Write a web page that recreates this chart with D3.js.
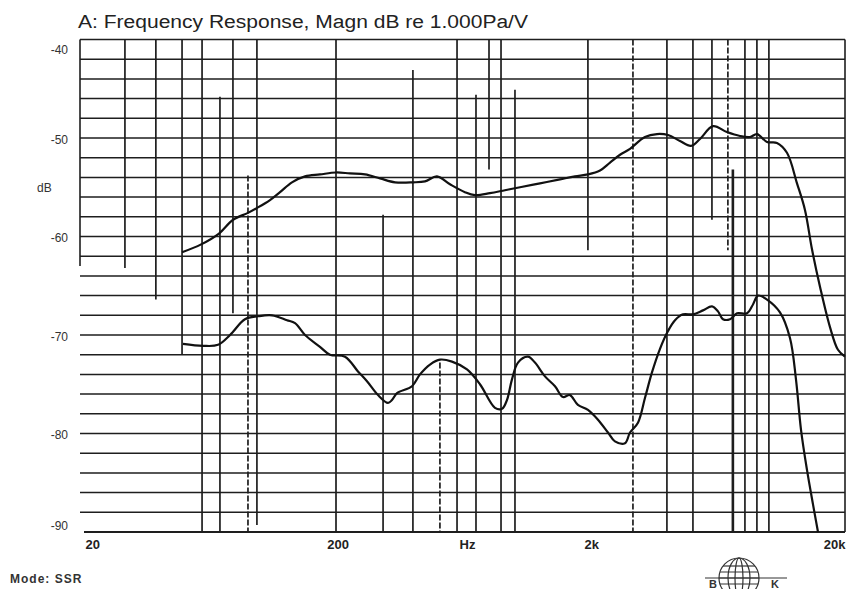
<!DOCTYPE html>
<html><head><meta charset="utf-8">
<script src="https://cdn.jsdelivr.net/npm/d3@7/dist/d3.min.js"></script>
<style>body{margin:0;background:#fff}svg{display:block}</style>
</head><body><svg id="c" width="847" height="589"></svg>
<script>
// ---- data (Hz, dB) ----
const upperFreq = [48.7,57.9,68.1,77.4,88.6,96.2,108.2,118.5,132.1,148.7,170.3,197,223.6,256.3,293.8,336.6,396.3,441.8,492.8,554.4,635.2,695.6,797,913,1047,1255,1505,1724,1940,2164,2370,2595,2841,3254,3630,4011,4472,4942,5362,6034,6848,7711,8443,8997,9852,10786,11810,12936,13906,14822,15938,17452,18764,19996];
const upperDb   = [-61.6,-60.8,-59.7,-58.3,-57.6,-57.1,-56.3,-55.5,-54.5,-53.9,-53.7,-53.5,-53.6,-53.7,-54.1,-54.5,-54.5,-54.4,-53.9,-54.7,-55.5,-55.8,-55.6,-55.3,-55.0,-54.6,-54.2,-53.9,-53.7,-53.3,-52.5,-51.7,-51.1,-49.9,-49.6,-49.7,-50.3,-50.8,-50.1,-48.8,-49.4,-49.8,-49.9,-49.6,-50.4,-50.5,-51.5,-54.6,-57.3,-61.3,-65.1,-69.2,-71.5,-72.2];
const lowerFreq = [49.1,58.9,67.5,75.3,86.2,97.0,110.2,126.3,135.8,148.7,170.3,186.5,213.8,240.5,261,288.4,315.8,327.5,342.8,392.6,422.2,462.4,506.4,564.6,647,727.8,834.2,888.8,930,973.2,1028,1125,1199,1313,1438,1546,1647,1771,1940,2124,2326,2478,2714,2841,3054,3254,3468,3730,4011,4274,4596,5032,5510,5978,6314,6608,7042,7502,8217,8676,9079,9852,11084,12137,12816,13412,14164,14958,15652];
const lowerDb   = [-70.9,-71.1,-71.0,-70.0,-68.4,-68.1,-68.0,-68.5,-68.8,-70.0,-71.2,-72.0,-72.2,-73.7,-74.7,-76.1,-76.9,-76.6,-75.9,-75.2,-74.0,-73.0,-72.5,-72.7,-73.5,-75.0,-77.4,-77.5,-76.6,-74.5,-72.8,-72.2,-72.8,-74.2,-75.2,-76.3,-76.1,-77.1,-77.6,-78.6,-79.9,-80.8,-81.0,-79.9,-78.9,-76.4,-73.8,-71.4,-69.6,-68.5,-67.9,-67.9,-67.5,-67.1,-67.6,-68.4,-68.4,-67.8,-67.8,-66.9,-66.0,-66.4,-67.7,-70.3,-74.5,-79.6,-83.7,-87.2,-90];

// vertical grid lines of the scanned chart (Hz, top dB, bottom dB)
const vFreq   = [29,38.4,48.7,58.4,68.7,77.3,88.6,96.1,197,302,396,506,591,702,790,881,1000,1939,2918,3972,5030,5977,6908,7228,8064,8990,10024];
const vTop    = [-40,-40,-40,-40,-45.8,-40,-53.8,-40,-40,-57.8,-43.1,-72.8,-40,-45.6,-40,-40,-45.1,-40,-40,-40,-40,-40,-40,-53.2,-40,-40,-40];
const vBottom = [-63.2,-66.4,-72,-90,-90,-67.8,-90,-89.3,-90,-90,-90,-90,-90,-90,-53.2,-90,-90,-61.4,-90,-90,-90,-58.3,-61.4,-90,-90,-90,-90];
const vDashed = [88.6,506,2918,6908];

const gridDb = [-42,-44,-46,-48,-50,-52,-54,-56,-58,-60,-62,-64,-66,-68,-70,-72,-74,-76,-78,-80,-82,-84,-86,-88];
const yTickValues = [-40,-50,-60,-70,-80,-90];
const xTickFreqs = [20,200,2000,20000];
const xTickText  = ["20","200","2k","20k"];
const titleText = "A: Frequency Response, Magn dB re 1.000Pa/V";
const unitY = "dB", unitX = "Hz", modeText = "Mode: SSR";

// ---- drawing ----
const svg = d3.select("#c");
const x = d3.scaleLog().domain([20,20000]).range([84,845]);
const y = d3.scaleLinear().domain([-90,-40]).range([532,39.5]);
const ink = "#1e1e1e";

// frame
svg.append("line").attr("x1",80).attr("x2",845).attr("y1",y(-40)).attr("y2",y(-40)).attr("stroke",ink).attr("stroke-width",1.6);
svg.append("line").attr("x1",845).attr("x2",845).attr("y1",y(-40)).attr("y2",y(-90)).attr("stroke",ink).attr("stroke-width",1.6);
svg.append("line").attr("x1",80).attr("x2",80).attr("y1",y(-40)).attr("y2",y(-63)).attr("stroke",ink).attr("stroke-width",1.6);
svg.append("line").attr("x1",84).attr("x2",845).attr("y1",y(-90)).attr("y2",y(-90)).attr("stroke",ink).attr("stroke-width",1.8);

// horizontal grid
svg.append("g").selectAll("line").data(gridDb).join("line")
  .attr("x1",80).attr("x2",845)
  .attr("y1",d=>y(d)).attr("y2",d=>y(d))
  .attr("stroke",ink).attr("stroke-width",1.5);

// vertical grid
svg.append("g").selectAll("line").data(vFreq).join("line")
  .attr("x1",d=>x(d)).attr("x2",d=>x(d))
  .attr("y1",(d,i)=>y(vTop[i])).attr("y2",(d,i)=>y(vBottom[i]))
  .attr("stroke",ink)
  .attr("stroke-width",d=>d===7228?2.6:1.7)
  .attr("stroke-dasharray",d=>vDashed.includes(d)?"6,2":null);

// curves
const line = d3.line().x(d=>x(d[0])).y(d=>y(d[1])).curve(d3.curveCatmullRom.alpha(0.5));
svg.append("path").datum(upperFreq.map((f,i)=>[f,upperDb[i]]))
  .attr("d",line).attr("fill","none").attr("stroke","#111").attr("stroke-width",2.2);
svg.append("path").datum(lowerFreq.map((f,i)=>[f,lowerDb[i]]))
  .attr("d",line).attr("fill","none").attr("stroke","#111").attr("stroke-width",2.2);

// y axis labels
const yAx = svg.append("g").attr("transform","translate(70,0)")
  .call(d3.axisLeft(y).tickValues(yTickValues).tickSize(0).tickPadding(2).tickFormat(d=>String(d)));
yAx.select(".domain").remove();
yAx.selectAll("text").attr("font-family","Liberation Sans, Arial, sans-serif").attr("font-size",12)
  .attr("fill","#333").attr("dy",d=>d===-40?"1.2em":(d===-90?"-0.25em":"0.45em"));

// x axis labels
const xAx = svg.append("g").attr("transform","translate(0,532)")
  .call(d3.axisBottom(x).tickValues(xTickFreqs).tickSize(0).tickPadding(8).tickFormat((d,i)=>xTickText[i]));
xAx.select(".domain").remove();
xAx.selectAll("text").attr("font-family","Liberation Sans Narrow, Arial Narrow, Liberation Sans, sans-serif")
  .attr("font-size",13).attr("font-weight","bold").attr("fill","#222")
  .attr("text-anchor",(d,i)=>i===0?"start":(i===xTickFreqs.length-1?"end":"middle"))
  .attr("dx",(d,i)=>i===0?1:0);

svg.append("text").attr("x",x(650)).attr("y",549).attr("text-anchor","middle")
  .attr("font-family","Liberation Sans Narrow, Arial Narrow, Liberation Sans, sans-serif")
  .attr("font-size",13).attr("font-weight","bold").attr("fill","#222").text(unitX);
svg.append("text").attr("x",37).attr("y",192)
  .attr("font-family","Liberation Sans, Arial, sans-serif").attr("font-size",12).attr("fill","#333").text(unitY);

// title
svg.append("text").attr("x",78).attr("y",28)
  .attr("font-family","Liberation Sans Narrow, Arial Narrow, Liberation Sans, sans-serif")
  .attr("font-size",18).attr("fill","#222")
  .attr("textLength",450).attr("lengthAdjust","spacingAndGlyphs").text(titleText);

// mode
svg.append("text").attr("x",10).attr("y",583)
  .attr("font-family","Liberation Sans, Arial, sans-serif").attr("font-size",12).attr("font-weight","bold")
  .attr("fill","#333").attr("letter-spacing",1).text(modeText);

// B&K logo
const logo = svg.append("g").attr("stroke","#333").attr("fill","none").attr("stroke-width",1.2);
logo.append("circle").attr("cx",739).attr("cy",578).attr("r",20);
logo.append("ellipse").attr("cx",739).attr("cy",578).attr("rx",11).attr("ry",20);
logo.append("ellipse").attr("cx",739).attr("cy",578).attr("rx",4).attr("ry",20);
[-12,-6,0,6].forEach(o=>logo.append("line").attr("x1",739-Math.sqrt(400-o*o)).attr("x2",739+Math.sqrt(400-o*o)).attr("y1",578+o).attr("y2",578+o));
logo.append("line").attr("x1",705).attr("x2",787).attr("y1",578).attr("y2",578);
svg.append("text").attr("x",709).attr("y",588).attr("font-family","Liberation Sans, Arial, sans-serif").attr("font-size",11).attr("font-weight","bold").attr("fill","#333").text("B");
svg.append("text").attr("x",771).attr("y",588).attr("font-family","Liberation Sans, Arial, sans-serif").attr("font-size",11).attr("font-weight","bold").attr("fill","#333").text("K");
</script></body></html>
